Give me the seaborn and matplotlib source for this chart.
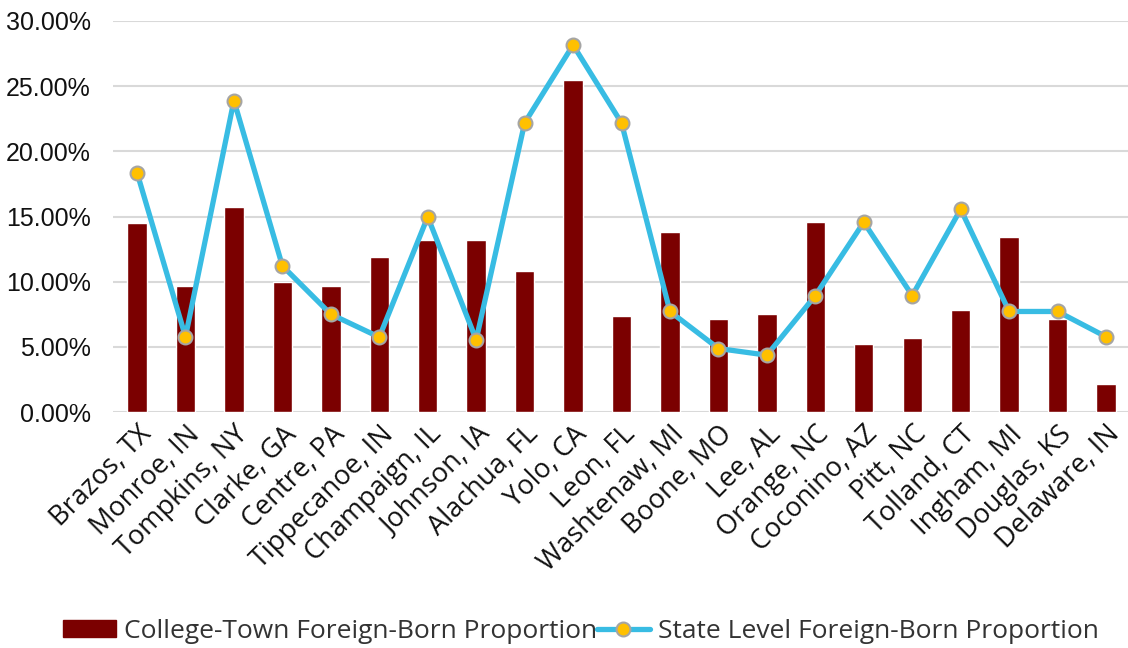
import matplotlib
matplotlib.use("Agg")
import matplotlib.pyplot as plt
import seaborn as sns
import pandas as pd
import numpy as np
from matplotlib.ticker import PercentFormatter
from matplotlib.lines import Line2D
from matplotlib.patches import Patch

# College towns and their foreign-born shares
counties = ["Brazos, TX", "Monroe, IN", "Tompkins, NY", "Clarke, GA", "Centre, PA",
            "Tippecanoe, IN", "Champaign, IL", "Johnson, IA", "Alachua, FL", "Yolo, CA",
            "Leon, FL", "Washtenaw, MI", "Boone, MO", "Lee, AL", "Orange, NC",
            "Coconino, AZ", "Pitt, NC", "Tolland, CT", "Ingham, MI", "Douglas, KS",
            "Delaware, IN"]
college_town = [0.1454, 0.0966, 0.1574, 0.0999, 0.0966,
                0.1193, 0.1324, 0.1324, 0.1086, 0.2550,
                0.0736, 0.1380, 0.0716, 0.0749, 0.1457,
                0.0521, 0.0565, 0.0782, 0.1347, 0.0716,
                0.0215]
state_level = [0.1837, 0.0578, 0.2390, 0.1122, 0.0751,
               0.0575, 0.1498, 0.0555, 0.2218, 0.2816,
               0.2218, 0.0772, 0.0488, 0.0437, 0.0894,
               0.1457, 0.0894, 0.1556, 0.0772, 0.0772,
               0.0578]

df = pd.DataFrame({"county": counties, "college": college_town, "state": state_level})

sns.set_theme(style="white")
plt.rcParams["font.family"] = ["Open Sans", "DejaVu Sans"]

bar_color = "#7B0000"
line_color = "#38BCE3"

fig = plt.figure(figsize=(11.28, 6.48), dpi=100)
ax = fig.add_axes([0.1, 0.364, 0.902, 0.6036])

sns.barplot(data=df, x="county", y="college", color=bar_color, width=0.4,
            saturation=1, ax=ax, zorder=2)
sns.lineplot(x=np.arange(len(df)), y=df["state"], ax=ax, color=line_color,
             linewidth=3.8, marker="o", markersize=10, markerfacecolor="#FFC000",
             markeredgecolor="#A5A5A5", markeredgewidth=1.5, zorder=3)

ax.set_ylim(0, 0.30)
ax.set_xlim(-0.5, len(df) - 0.5)
ax.set_yticks(np.arange(0, 0.31, 0.05))
ax.yaxis.set_major_formatter(PercentFormatter(1, decimals=2))
ax.grid(axis="y", color="#D9D9D9", linewidth=1.5, zorder=0)
ax.set_axisbelow(True)
for s in ax.spines.values():
    s.set_visible(False)
ax.set_xlabel("")
ax.set_ylabel("")
ax.tick_params(axis="both", length=0)
ax.tick_params(axis="y", pad=16)
ax.tick_params(axis="x", pad=6)

for lab in ax.get_yticklabels():
    lab.set_fontfamily("Liberation Sans")
    lab.set_fontsize(18)
    lab.set_color("#111111")
ax.set_xticks(range(len(df)))
ax.set_xticklabels(counties, rotation=45, ha="right", rotation_mode="anchor",
                   fontsize=19.5, color="#111111")

handles = [Patch(facecolor=bar_color, edgecolor=bar_color),
           Line2D([0], [0], color=line_color, linewidth=3.8, marker="o", markersize=10,
                  markerfacecolor="#FFC000", markeredgecolor="#A5A5A5", markeredgewidth=1.5)]
fig.legend(handles, ["College-Town Foreign-Born Proportion", "State Level Foreign-Born Proportion"],
           loc="center", bbox_to_anchor=(0.515, 0.026), ncol=2, frameon=False,
           fontsize=19, handlelength=2.0, handleheight=0.6, handletextpad=0.3,
           columnspacing=0.0, labelcolor="#333333")

fig.savefig("out.png", dpi=100)
